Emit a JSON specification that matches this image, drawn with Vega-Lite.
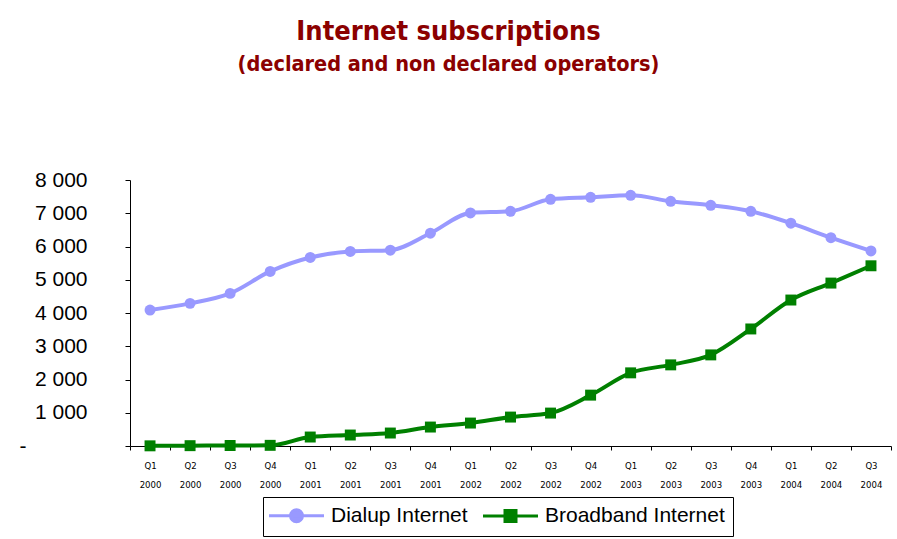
{
  "$schema": "https://vega.github.io/schema/vega-lite/v6.json",
  "width": 761,
  "height": 266,
  "autosize": "none",
  "padding": {"left": 130, "top": 180, "right": 6, "bottom": 93},
  "background": "white",
  "title": {
    "text": "Internet subscriptions",
    "subtitle": "(declared and non declared operators)",
    "anchor": "middle",
    "frame": "group",
    "dx": -62,
    "offset": 93,
    "font": "DejaVu Sans Condensed",
    "fontSize": 27,
    "fontWeight": "bold",
    "color": "#8B0000",
    "subtitleFont": "DejaVu Sans Condensed",
    "subtitleFontSize": 21.5,
    "subtitleFontWeight": "bold",
    "subtitleColor": "#8B0000",
    "subtitlePadding": 8
  },
  "config": {
    "view": {"stroke": null},
    "axis": {"grid": false, "domainColor": "black", "tickColor": "black", "labelColor": "black", "domainWidth": 1, "tickWidth": 1}
  },
  "data": {
    "values": [
      {"q": "Q1 2000", "series": "Dialup Internet", "v": 4090},
      {"q": "Q2 2000", "series": "Dialup Internet", "v": 4290},
      {"q": "Q3 2000", "series": "Dialup Internet", "v": 4590},
      {"q": "Q4 2000", "series": "Dialup Internet", "v": 5250},
      {"q": "Q1 2001", "series": "Dialup Internet", "v": 5670},
      {"q": "Q2 2001", "series": "Dialup Internet", "v": 5850},
      {"q": "Q3 2001", "series": "Dialup Internet", "v": 5890},
      {"q": "Q4 2001", "series": "Dialup Internet", "v": 6400},
      {"q": "Q1 2002", "series": "Dialup Internet", "v": 7010},
      {"q": "Q2 2002", "series": "Dialup Internet", "v": 7060},
      {"q": "Q3 2002", "series": "Dialup Internet", "v": 7420},
      {"q": "Q4 2002", "series": "Dialup Internet", "v": 7480},
      {"q": "Q1 2003", "series": "Dialup Internet", "v": 7540},
      {"q": "Q2 2003", "series": "Dialup Internet", "v": 7360},
      {"q": "Q3 2003", "series": "Dialup Internet", "v": 7240},
      {"q": "Q4 2003", "series": "Dialup Internet", "v": 7060},
      {"q": "Q1 2004", "series": "Dialup Internet", "v": 6700},
      {"q": "Q2 2004", "series": "Dialup Internet", "v": 6265},
      {"q": "Q3 2004", "series": "Dialup Internet", "v": 5865},
      {"q": "Q1 2000", "series": "Broadband Internet", "v": 5},
      {"q": "Q2 2000", "series": "Broadband Internet", "v": 10},
      {"q": "Q3 2000", "series": "Broadband Internet", "v": 15},
      {"q": "Q4 2000", "series": "Broadband Internet", "v": 20},
      {"q": "Q1 2001", "series": "Broadband Internet", "v": 270},
      {"q": "Q2 2001", "series": "Broadband Internet", "v": 330},
      {"q": "Q3 2001", "series": "Broadband Internet", "v": 390},
      {"q": "Q4 2001", "series": "Broadband Internet", "v": 570},
      {"q": "Q1 2002", "series": "Broadband Internet", "v": 690},
      {"q": "Q2 2002", "series": "Broadband Internet", "v": 870},
      {"q": "Q3 2002", "series": "Broadband Internet", "v": 990},
      {"q": "Q4 2002", "series": "Broadband Internet", "v": 1530},
      {"q": "Q1 2003", "series": "Broadband Internet", "v": 2200},
      {"q": "Q2 2003", "series": "Broadband Internet", "v": 2440},
      {"q": "Q3 2003", "series": "Broadband Internet", "v": 2740},
      {"q": "Q4 2003", "series": "Broadband Internet", "v": 3520},
      {"q": "Q1 2004", "series": "Broadband Internet", "v": 4390},
      {"q": "Q2 2004", "series": "Broadband Internet", "v": 4900},
      {"q": "Q3 2004", "series": "Broadband Internet", "v": 5420}
    ]
  },
  "encoding": {
    "x": {
      "field": "q",
      "type": "ordinal",
      "sort": null,
      "scale": {"paddingInner": 0, "paddingOuter": 0},
      "axis": {
        "title": null,
        "labelAngle": 0,
        "labelExpr": "split(datum.label, ' ')",
        "labelFont": "DejaVu Sans Condensed",
        "labelFontSize": 9.5,
        "labelLineHeight": 19,
        "labelPadding": 10,
        "tickBand": "extent",
        "tickSize": 4
      }
    },
    "y": {
      "field": "v",
      "type": "quantitative",
      "scale": {"domain": [0, 8000], "nice": false},
      "axis": {
        "title": null,
        "values": [0, 1000, 2000, 3000, 4000, 5000, 6000, 7000, 8000],
        "labelExpr": "datum.value == 0 ? '-' : replace(format(datum.value, ','), ',', ' ')",
        "labelFont": "Liberation Sans, Arial",
        "labelFontSize": 21,
        "labelPadding": {"condition": {"test": "datum.value == 0", "value": 99}, "value": 38},
        "tickSize": 5
      }
    },
    "color": {
      "field": "series",
      "type": "nominal",
      "sort": ["Dialup Internet", "Broadband Internet"],
      "scale": {"domain": ["Dialup Internet", "Broadband Internet"], "range": ["#9999FF", "#008000"]}
    }
  },
  "layer": [
    {
      "mark": {"type": "line", "interpolate": "monotone", "strokeWidth": 4},
      "encoding": {
        "color": {
          "field": "series",
          "type": "nominal",
          "sort": ["Dialup Internet", "Broadband Internet"],
          "scale": {"domain": ["Dialup Internet", "Broadband Internet"], "range": ["#9999FF", "#008000"]},
          "legend": {
            "title": null,
            "orient": "none",
            "direction": "horizontal",
            "legendX": 133,
            "legendY": 317,
            "padding": 8,
            "strokeColor": "black",
            "fillColor": "white",
            "labelFont": "Liberation Sans, Arial",
            "labelFontSize": 21,
            "labelColor": "black",
            "labelLimit": 0,
            "symbolSize": 100,
            "symbolStrokeWidth": 3,
            "symbolOffset": 15,
            "labelOffset": 24,
            "columnPadding": 9,
            "encode": {
              "symbols": {
                "update": {
                  "shape": {"signal": "datum.value == 'Dialup Internet' ? 'M-5.5,0H5.5M-1.2,0A1.2,1.2,0,1,0,1.2,0A1.2,1.2,0,1,0,-1.2,0Z' : 'M-5.5,0H5.5M-1.1,-1.1H1.1V1.1H-1.1Z'"},
                  "fill": {"signal": "datum.value == 'Dialup Internet' ? '#9999FF' : '#008000'"},
                  "stroke": {"signal": "datum.value == 'Dialup Internet' ? '#9999FF' : '#008000'"},
                  "opacity": {"value": 1}
                }
              }
            }
          }
        }
      }
    },
    {
      "transform": [{"filter": "datum.series == 'Dialup Internet'"}],
      "mark": {"type": "point", "filled": true, "opacity": 1, "size": 120, "shape": "circle"},
      "encoding": {
        "color": {"field": "series", "type": "nominal", "legend": null}
      }
    },
    {
      "transform": [{"filter": "datum.series == 'Broadband Internet'"}],
      "mark": {"type": "point", "filled": true, "opacity": 1, "size": 120, "shape": "square"},
      "encoding": {
        "color": {"field": "series", "type": "nominal", "legend": null}
      }
    }
  ]
}
